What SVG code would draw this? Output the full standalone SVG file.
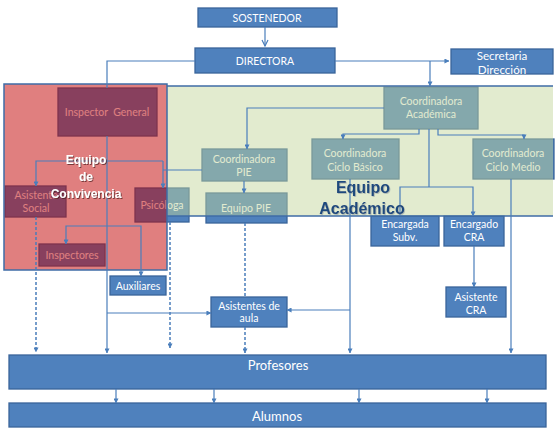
<svg xmlns="http://www.w3.org/2000/svg" width="560" height="438" viewBox="0 0 560 438">
<defs>
<style>
.box{fill:#4F81BD;stroke:#3A649A;stroke-width:1.3}
.t{font-family:Lato,"Liberation Sans",sans-serif;font-size:10.5px;fill:#fff;text-anchor:middle}
.c{fill:none;stroke:#4A7EBB;stroke-width:1.2}
.d{stroke-dasharray:3 2;stroke-width:1.5}
.lbl{font-family:"Liberation Sans",Arial,sans-serif;font-weight:bold;text-anchor:middle}
</style>
<filter id="sh" x="-10%" y="-10%" width="130%" height="130%">
<feDropShadow dx="1" dy="1" stdDeviation="0.6" flood-color="#4a1a1a" flood-opacity="0.7"/>
</filter>
<filter id="sh2" x="-10%" y="-10%" width="130%" height="130%">
<feDropShadow dx="0.8" dy="0.8" stdDeviation="0.5" flood-color="#7a8a9a" flood-opacity="0.6"/>
</filter>
<marker id="a" viewBox="0 0 6 6" refX="5.5" refY="3" markerWidth="5" markerHeight="5" orient="auto" markerUnits="userSpaceOnUse">
<path d="M0,0 L6,3 L0,6 z" fill="#4A7EBB"/>
</marker>
<marker id="o" viewBox="0 0 8 8" refX="7" refY="4" markerWidth="8" markerHeight="8" orient="auto" markerUnits="userSpaceOnUse">
<path d="M1,1 L7,4 L1,7" fill="none" stroke="#4A7EBB" stroke-width="1.2"/>
</marker>
</defs>
<rect width="560" height="438" fill="#fff"/>

<g id="sostenedor"><rect class="box" x="198" y="8" width="139" height="19"/><text class="t" x="267" y="18" dy=".35em">SOSTENEDOR</text></g>
<g id="directora"><rect class="box" x="195" y="48" width="140" height="25"/><text class="t" x="265" y="61" dy=".35em">DIRECTORA</text></g>
<g id="secretaria"><rect class="box" x="451" y="49" width="102" height="25"/><text class="t" x="502" y="56" dy=".35em" style="font-size:11.6px">Secretaria</text><text class="t" x="502" y="70" dy=".35em" style="font-size:11.6px">Dirección</text></g>
<g id="inspector-general"><rect class="box" x="58" y="88" width="99" height="48"/><text class="t" x="107" y="112" dy=".35em" style="white-space:pre">Inspector  General</text></g>
<g id="coord-academica"><rect class="box" x="384" y="87" width="94" height="42"/><text class="t" x="431" y="101" dy=".35em">Coordinadora</text><text class="t" x="431" y="114" dy=".35em">Académica</text></g>
<g id="coord-pie"><rect class="box" x="202" y="149" width="85" height="32"/><text class="t" x="244" y="159" dy=".35em">Coordinadora</text><text class="t" x="244" y="172" dy=".35em">PIE</text></g>
<g id="equipo-pie"><rect class="box" x="206" y="193" width="81" height="30"/><text class="t" x="246" y="208" dy=".35em">Equipo PIE</text></g>
<g id="ciclo-basico"><rect class="box" x="312" y="139" width="87" height="40"/><text class="t" x="355" y="153" dy=".35em">Coordinadora</text><text class="t" x="355" y="167" dy=".35em">Ciclo Básico</text></g>
<g id="ciclo-medio"><rect class="box" x="473" y="139" width="81" height="40"/><text class="t" x="513" y="153" dy=".35em">Coordinadora</text><text class="t" x="513" y="167" dy=".35em">Ciclo Medio</text></g>
<g id="asistente-social"><rect class="box" x="5" y="186" width="61" height="31"/><text class="t" x="36" y="195" dy=".35em">Asistente</text><text class="t" x="36" y="208" dy=".35em">Social</text></g>
<g id="psicologa"><rect class="box" x="135" y="188" width="54" height="34"/><text class="t" x="162" y="205" dy=".35em">Psicóloga</text></g>
<g id="inspectores"><rect class="box" x="39" y="244" width="66" height="22"/><text class="t" x="72" y="255" dy=".35em">Inspectores</text></g>
<g id="auxiliares"><rect class="box" x="110" y="276" width="56" height="19"/><text class="t" x="138" y="286" dy=".35em">Auxiliares</text></g>
<g id="asistentes-aula"><rect class="box" x="211" y="297" width="76" height="30"/><text class="t" x="249" y="306" dy=".35em">Asistentes de</text><text class="t" x="249" y="318" dy=".35em">aula</text></g>
<g id="encargada-subv"><rect class="box" x="371" y="216" width="68" height="30"/><text class="t" x="405" y="224" dy=".35em">Encargada</text><text class="t" x="405" y="237" dy=".35em">Subv.</text></g>
<g id="encargado-cra"><rect class="box" x="444" y="216" width="60" height="30"/><text class="t" x="474" y="224" dy=".35em">Encargado</text><text class="t" x="474" y="237" dy=".35em">CRA</text></g>
<g id="asistente-cra"><rect class="box" x="446" y="287" width="60" height="30"/><text class="t" x="476" y="297" dy=".35em">Asistente</text><text class="t" x="476" y="310" dy=".35em">CRA</text></g>
<g id="profesores"><rect class="box" x="9" y="355" width="537" height="34"/><text class="t" x="278" y="365" dy=".35em" style="font-size:13px">Profesores</text></g>
<g id="alumnos"><rect class="box" x="9" y="403" width="537" height="24"/><text class="t" x="277" y="416" dy=".35em" style="font-size:13px">Alumnos</text></g>

<g id="equipo-academico">
<rect x="167" y="86" width="386" height="130" fill="#C2D599" fill-opacity="0.47"/>
<path d="M167,86 H553 M167,216 H553" stroke="#3F6CA6" stroke-width="1.5" fill="none"/>
</g>
<g id="equipo-convivencia">
<rect x="4" y="84" width="163" height="186" fill="#C10000" fill-opacity="0.5" stroke="#3F6CA6" stroke-width="1.5"/>
</g>

<g id="connectors">
<path class="c" d="M265,27 V46" marker-end="url(#o)"/>
<path class="c" d="M195,61 H107 V88"/>
<path class="c" d="M107,136 V353" marker-end="url(#a)"/>
<path class="c" d="M335,61 H449" marker-end="url(#a)"/>
<path class="c" d="M430,61 V86" marker-end="url(#a)"/>
<path class="c" d="M384,108 H247 V149" marker-end="url(#a)"/>
<path class="c" d="M419,129 V134 H343 V139" marker-end="url(#a)"/>
<path class="c" d="M438,129 V135 H524 V139" marker-end="url(#a)"/>
<path class="c" d="M429,129 V187"/>
<path class="c" d="M400,216 V187 H473 V216" marker-end="url(#a)"/>
<path class="c" d="M244,181 V193" marker-end="url(#a)"/>
<path class="c" d="M202,170 H163"/>
<path class="c" d="M163,161 V188" marker-end="url(#a)"/>
<path class="c" d="M163,161 H36 V186" marker-end="url(#a)"/>
<path class="c" d="M107,226 H66 V244" marker-end="url(#a)"/>
<path class="c" d="M107,226 H141 V276" marker-end="url(#a)"/>
<path class="c" d="M107,313 H211" marker-end="url(#a)"/>
<path class="c" d="M350,179 V353" marker-end="url(#a)"/>
<path class="c" d="M350,310 H287" marker-end="url(#a)"/>
<path class="c" d="M511,179 V353" marker-end="url(#a)"/>
<path class="c" d="M474,246 V287" marker-end="url(#a)"/>
<path class="c d" d="M36,217 V352" marker-end="url(#a)"/>
<path class="c d" d="M170,222 V348" marker-end="url(#a)"/>
<path class="c d" d="M245,223 V297"/>
<path class="c d" d="M245,327 V353" marker-end="url(#a)"/>
<path class="c" d="M116,389 V403" marker-end="url(#a)"/>
<path class="c" d="M214,389 V403" marker-end="url(#a)"/>
<path class="c" d="M359,389 V403" marker-end="url(#a)"/>
<path class="c" d="M487,389 V403" marker-end="url(#a)"/>
</g>

<g id="labels">
<g class="lbl" font-size="12" fill="#fff" filter="url(#sh)">
<text x="86" y="164">Equipo</text><text x="86" y="181">de</text><text x="86" y="198">Convivencia</text>
</g>
<g class="lbl" font-size="16" fill="#1F497D" filter="url(#sh2)">
<text x="363" y="193">Equipo</text><text x="362" y="214">Académico</text>
</g>
</g>
</svg>
